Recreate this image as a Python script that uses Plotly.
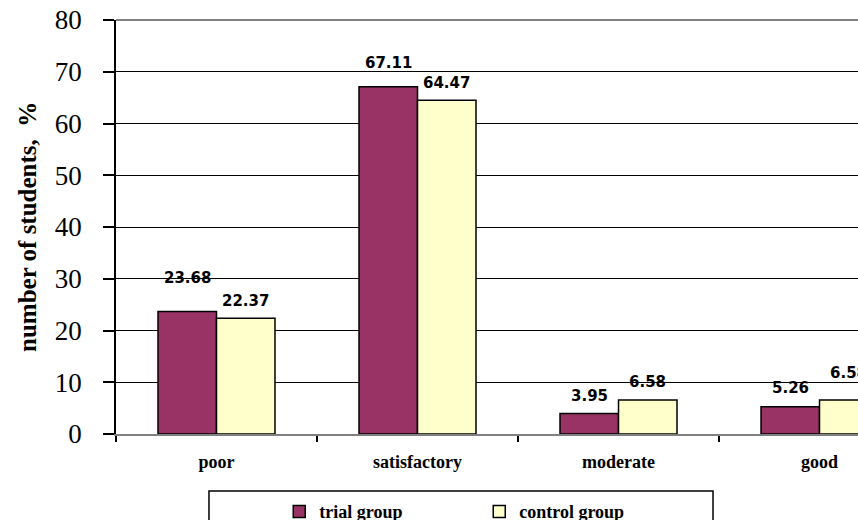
import plotly.graph_objects as go

# Assessment levels and share of students (%) in each group
levels = ["poor", "satisfactory", "moderate", "good"]
trial_group = [23.68, 67.11, 3.95, 5.26]
control_group = [22.37, 64.47, 6.58, 6.58]
y_ticks = [0, 10, 20, 30, 40, 50, 60, 70, 80]

TRIAL_COLOR = "#993366"
CONTROL_COLOR = "#FFFFCC"
SERIF = "Liberation Serif, Times New Roman, serif"
LABEL_FONT = dict(family="DejaVu Sans, Verdana, sans-serif", size=15, color="black", weight="bold")

# pixel lift of each value label above its bar (trial, control)
trial_lift = [33, 24, 18, 19]
control_lift = [17, 17, 18, 27]
half_bar_px = 29

fig = go.Figure()
fig.add_trace(go.Bar(
    name="trial group", x=levels, y=trial_group,
    marker=dict(color=TRIAL_COLOR, line=dict(color="black", width=1.5)),
))
fig.add_trace(go.Bar(
    name="control group", x=levels, y=control_group,
    marker=dict(color=CONTROL_COLOR, line=dict(color="black", width=1.5)),
))

annotations = []
for lvl, v, lift in zip(levels, trial_group, trial_lift):
    annotations.append(dict(x=lvl, y=v, xref="x", yref="y", text=f"{v:.2f}",
                            showarrow=False, xshift=-half_bar_px, yshift=lift,
                            font=LABEL_FONT))
for lvl, v, lift in zip(levels, control_group, control_lift):
    annotations.append(dict(x=lvl, y=v, xref="x", yref="y", text=f"{v:.2f}",
                            showarrow=False, xshift=half_bar_px, yshift=lift,
                            font=LABEL_FONT))

# rotated axis title
annotations.append(dict(
    x=-0.12, y=0.50, xref="paper", yref="paper", text="number of students,  %",
    textangle=-90, showarrow=False, xanchor="center", yanchor="middle",
    font=dict(family=SERIF, size=25, color="black", weight="bold"),
))

shapes = [
    # legend frame
    dict(type="rect", xref="paper", yref="paper", x0=0.1253, x1=0.8046,
         y0=-0.1377, y1=-0.30, line=dict(color="black", width=1.5),
         fillcolor="rgba(0,0,0,0)", layer="below"),
    # upper edge of plot area
    dict(type="line", xref="paper", yref="paper", x0=0, x1=1, y0=1, y1=1,
         line=dict(color="#808080", width=2)),
]

fig.update_layout(
    width=858, height=520,
    margin=dict(l=116, r=0, t=20, b=86, autoexpand=False),
    paper_bgcolor="white", plot_bgcolor="white",
    barmode="group", bargap=0.418, bargroupgap=0,
    showlegend=True,
    legend=dict(orientation="h", x=0.22, xanchor="left", y=-0.143, yanchor="top",
                font=dict(family=SERIF, size=18, color="black", weight="bold"),
                entrywidth=155, entrywidthmode="pixels",
                bgcolor="rgba(0,0,0,0)", borderwidth=0, itemclick=False),
    annotations=annotations,
    shapes=shapes,
)

fig.update_xaxes(
    range=[-0.5, 3.1915], showgrid=False,
    showline=True, linecolor="#808080", linewidth=2,
    ticks="outside", tickson="boundaries", ticklen=6, tickcolor="black", tickwidth=1.5,
    tickfont=dict(family=SERIF, size=18, color="black", weight="bold"),
    ticklabelstandoff=10,
)
fig.update_yaxes(
    range=[0, 80], tickvals=y_ticks, ticktext=[str(t) for t in y_ticks],
    showgrid=True, gridcolor="black", gridwidth=1,
    showline=True, linecolor="black", linewidth=1.5,
    ticks="outside", ticklen=11, tickcolor="black", tickwidth=1.5,
    tickfont=dict(family=SERIF, size=27, color="black"),
    ticklabelstandoff=16, zeroline=False,
)

fig.write_html("out.html")
